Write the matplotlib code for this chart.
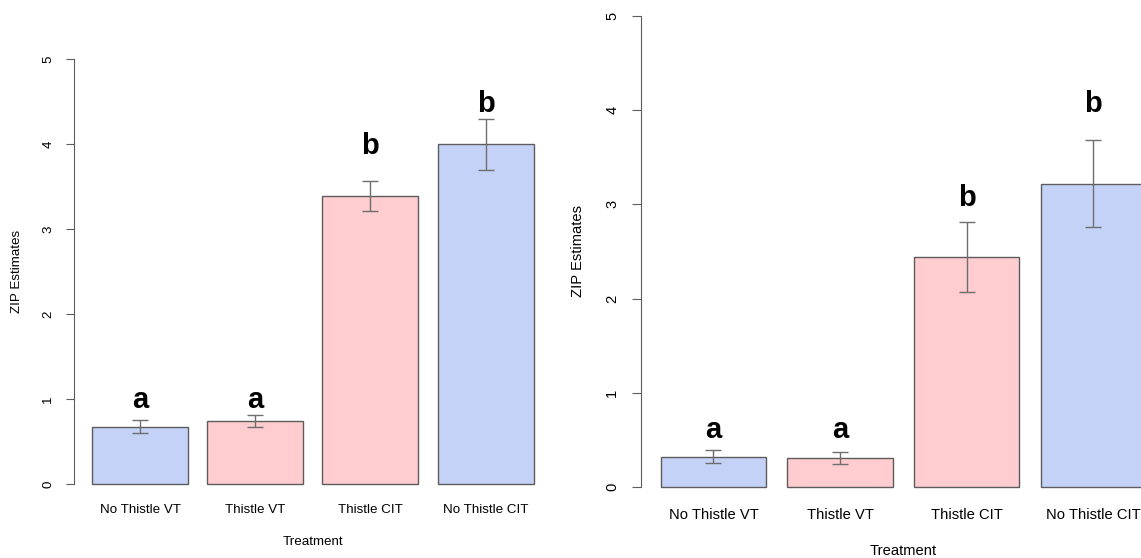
import matplotlib.pyplot as plt

plt.rcParams['font.family'] = ['Liberation Sans', 'DejaVu Sans']

treatments = ['No Thistle VT', 'Thistle VT', 'Thistle CIT', 'No Thistle CIT']
bar_colors = ['#c4d2f7', '#ffcccf', '#ffcccf', '#c4d2f7']

# left panel
zip_left = [0.68, 0.75, 3.39, 4.00]
se_left = [0.078, 0.07, 0.18, 0.30]
letters_left = ['a', 'a', 'b', 'b']
letter_y_left = [0.99, 0.99, 3.98, 4.48]

# right panel
zip_right = [0.32, 0.305, 2.44, 3.22]
se_right = [0.07, 0.062, 0.375, 0.46]
letters_right = ['a', 'a', 'b', 'b']
letter_y_right = [0.6, 0.6, 3.07, 4.07]

W, H = 1141, 558
fig = plt.figure(figsize=(W / 100, H / 100), dpi=100)

centers = [0.7, 1.9, 3.1, 4.3]
xlo, xhi = 0.016, 4.984
ylo, yhi = -0.2, 5.2


def panel(x0, y0, px_x, px_y, vals, errs, letters, letter_y, fs, scale):
    # x0, y0: pixel position of data (0, 0), measured from top-left
    left = x0 + xlo * px_x
    width = (xhi - xlo) * px_x
    bottom = H - (y0 - ylo * px_y)
    height = (yhi - ylo) * px_y
    ax = fig.add_axes([left / W, bottom / H, width / W, height / H])
    ax.set_xlim(xlo, xhi)
    ax.set_ylim(ylo, yhi)
    ax.bar(centers, vals, width=1.0, color=bar_colors, edgecolor='#5c5c5c', linewidth=1.0)
    ax.errorbar(centers, vals, yerr=errs, fmt='none', ecolor='#6e6e6e',
                elinewidth=1.0, capsize=5.5 * scale, capthick=1.0)
    for x, t, ly in zip(centers, letters, letter_y):
        ax.text(x, ly, t, ha='center', va='center', fontsize=21,
                fontweight='bold', color='black')
    for s in ['top', 'right', 'bottom']:
        ax.spines[s].set_visible(False)
    ax.spines['left'].set_bounds(0, 5)
    ax.spines['left'].set_color('#5c5c5c')
    ax.set_yticks(range(6))
    ax.set_yticklabels([str(i) for i in range(6)], rotation=90, va='center', fontsize=fs)
    ax.tick_params(axis='y', length=6 * scale, color='#5c5c5c', pad=8.5 * scale)
    ax.set_xticks([])
    for x, t in zip(centers, treatments):
        ax.annotate(t, xy=(x, 0), xycoords=('data', 'axes fraction'),
                    xytext=(0, -6.2 * scale), textcoords='offset points',
                    ha='center', va='center', fontsize=fs)
    ax.annotate('Treatment', xy=(2.5, 0), xycoords=('data', 'axes fraction'),
                xytext=(0, -29.5 * scale), textcoords='offset points',
                ha='center', va='center', fontsize=fs)
    ax.annotate('ZIP Estimates', xy=(0, 0.5), xycoords='axes fraction',
                xytext=(-41.3 * scale, 0), textcoords='offset points',
                ha='center', va='center', rotation=90, fontsize=fs)
    return ax


panel(72.8, 484.3, 96.0, 85.0, zip_left, se_left, letters_left, letter_y_left, 9.6, 1.0)
panel(639.6, 486.7, 105.5, 94.1, zip_right, se_right, letters_right, letter_y_right, 10.6, 1.1)

fig.savefig('out.png', dpi=100)
